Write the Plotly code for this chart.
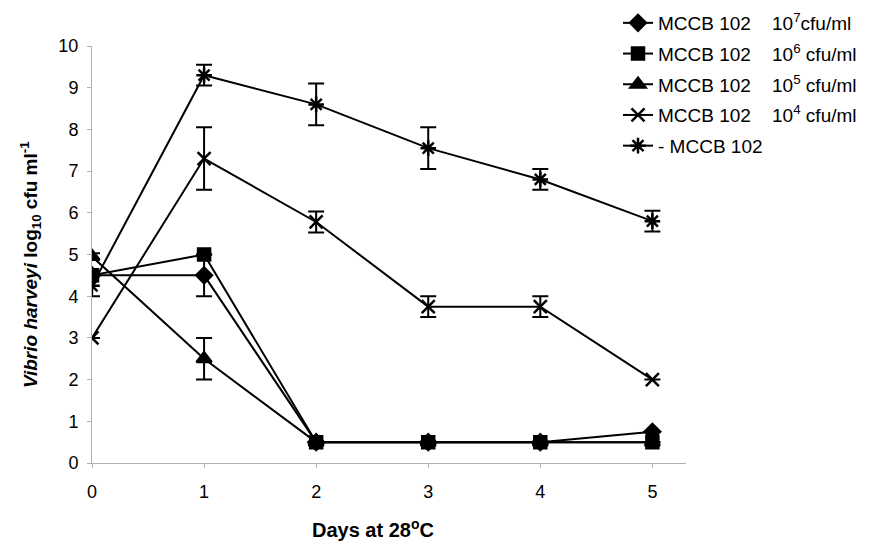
import plotly.graph_objects as go

days = [0, 1, 2, 3, 4, 5]
x_tick_labels = ["0", "1", "2", "3", "4", "5"]
y_ticks = [0, 1, 2, 3, 4, 5, 6, 7, 8, 9, 10]

NB = "\u00a0"
series_names = [
    "MCCB 102" + NB * 4 + "10<sup>7</sup>cfu/ml",
    "MCCB 102" + NB * 4 + "10<sup>6</sup> cfu/ml",
    "MCCB 102" + NB * 4 + "10<sup>5</sup> cfu/ml",
    "MCCB 102" + NB * 4 + "10<sup>4</sup> cfu/ml",
    "- MCCB 102",
]
v_1e7 = [4.5, 4.5, 0.5, 0.5, 0.5, 0.75]
v_1e6 = [4.5, 5.0, 0.5, 0.5, 0.5, 0.5]
v_1e5 = [4.95, 2.5, 0.5, 0.5, 0.5, 0.5]
v_1e4 = [3.0, 7.3, 5.78, 3.75, 3.75, 2.0]
v_ctrl = [4.25, 9.3, 8.6, 7.55, 6.8, 5.8]

e_1e7 = [0, 0.5, 0, 0, 0, 0]
e_1e6 = [0, 0, 0, 0, 0, 0]
e_1e5 = [0.08, 0.5, 0, 0, 0, 0]
e_1e4 = [0, 0.75, 0.25, 0.25, 0.25, 0]
e_ctrl = [0.25, 0.25, 0.5, 0.5, 0.25, 0.25]

values = [v_1e7, v_1e6, v_1e5, v_1e4, v_ctrl]
errors = [e_1e7, e_1e6, e_1e5, e_1e4, e_ctrl]
symbols = ["diamond", "square", "triangle-up", "x-thin-open", "asterisk-open"]
sizes = [12, 12, 13, 13, 13]

fig = go.Figure()
for i, (name, v, e, sym, sz) in enumerate(zip(series_names, values, errors, symbols, sizes)):
    fig.add_trace(go.Scatter(
        x=days, y=v, name=name, mode="lines+markers", legendgroup=f"g{i}",
        line=dict(color="black", width=2),
        marker=dict(symbol=sym, size=sz, color="black",
                    line=dict(color="black", width=2.5)),
        error_y=dict(type="data", array=e, visible=True,
                     color="black", thickness=2, width=8),
    ))

font_family = "Liberation Sans, Arial, sans-serif"

# page body has an 8px margin; margins below compensate for it
L, T, B = 84, 38, 95
W, H = 870, 550
plot_w = 594
plot_h = H - T - B
R = W - L - plot_w

fig.update_layout(
    width=W, height=H,
    margin=dict(l=L, r=R, t=T, b=B, autoexpand=False),
    paper_bgcolor="white", plot_bgcolor="white",
    font=dict(family=font_family, size=18, color="black"),
    showlegend=True,
    legend=dict(x=(618 - 92) / plot_w, y=1 + 42 / plot_h, xanchor="left", yanchor="top",
                font=dict(size=19, color="black"),
                bgcolor="rgba(0,0,0,0)", tracegroupgap=3),
    xaxis=dict(range=[0, 5.3], tickmode="array", tickvals=days,
               ticktext=x_tick_labels, showgrid=False, zeroline=False,
               showline=True, linecolor="#b0b0b0", linewidth=1,
               ticks="outside", ticklen=4, tickcolor="#b0b0b0",
               ticklabelstandoff=8,
               tickfont=dict(size=18, color="black")),
    yaxis=dict(range=[0, 10], tickmode="array", tickvals=y_ticks,
               showgrid=False, zeroline=False,
               showline=True, linecolor="#b0b0b0", linewidth=1,
               ticks="outside", ticklen=4, tickcolor="#b0b0b0",
               ticklabelstandoff=5,
               tickfont=dict(size=18, color="black")),
)

fig.add_annotation(
    text="<b>Days at 28<sup>o</sup>C</b>", xref="paper", yref="paper",
    x=(373 - 92) / plot_w, y=(463 - 528) / plot_h, xanchor="center", yanchor="middle",
    showarrow=False, font=dict(size=20, color="black"),
)
fig.add_annotation(
    text="<b><i>Vibrio harveyi</i> log<sub>10</sub> cfu ml<sup>-1</sup></b>",
    xref="paper", yref="paper", x=(30 - 92) / plot_w, y=(463 - 265) / plot_h,
    xanchor="center", yanchor="middle", textangle=-90,
    showarrow=False, font=dict(size=19, color="black"),
)

fig.write_html("out.html")
